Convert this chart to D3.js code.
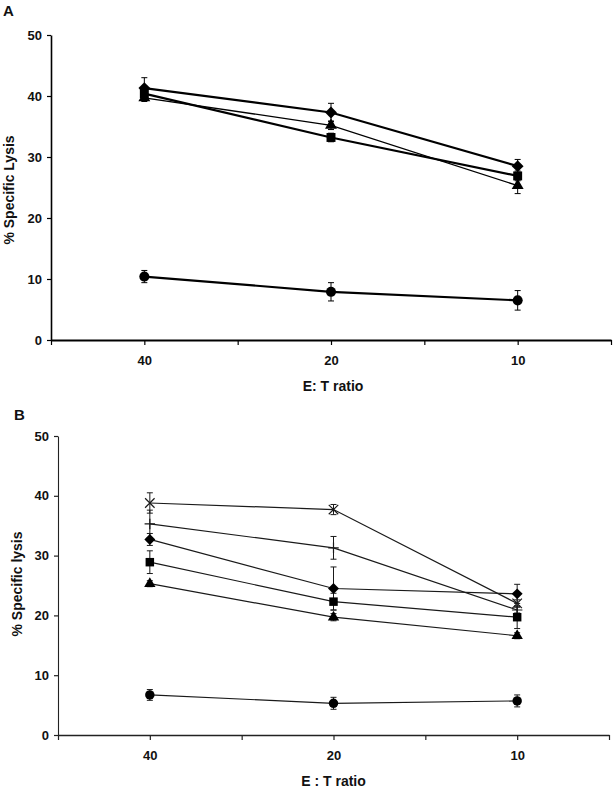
<!DOCTYPE html>
<html>
<head>
<meta charset="utf-8">
<script src="https://cdn.jsdelivr.net/npm/d3@7"></script>
<style>
  html, body { margin: 0; padding: 0; background: #fff; }
  svg { display: block; }
  text { font-family: "Liberation Sans", Arial, sans-serif; fill: #111; }
</style>
</head>
<body>
<div id="chart"></div>
<script>
// ---------- data ----------
const categories = ["40", "20", "10"];
const yTicks = [0, 10, 20, 30, 40, 50];

// Panel A
const aDiamond = [41.3, 37.3, 28.5];
const aDiamondErr = [1.7, 1.5, 1.1];
const aSquare = [40.4, 33.2, 26.9];
const aSquareErr = [0.8, 0.7, 0.8];
const aTriangle = [39.7, 35.2, 25.3];
const aTriangleErr = [0.6, 0.7, 1.3];
const aCircle = [10.4, 7.9, 6.5];
const aCircleErr = [1.0, 1.5, 1.6];

// Panel B
const bCross = [38.8, 37.7, 22.0];
const bCrossErr = [1.7, 0.85, 0.6];
const bPlus = [35.3, 31.3, 20.9];
const bPlusErr = [2.3, 1.9, 0.5];
const bDiamond = [32.7, 24.5, 23.6];
const bDiamondErr = [1.0, 3.6, 1.6];
const bSquare = [28.9, 22.3, 19.7];
const bSquareErr = [1.9, 1.4, 1.9];
const bTriangle = [25.3, 19.7, 16.6];
const bTriangleErr = [0.5, 0.6, 0.5];
const bCircle = [6.7, 5.3, 5.7];
const bCircleErr = [0.9, 1.0, 1.0];

// ---------- custom symbol types ----------
const symDiamond = {
  draw(ctx, size) {
    const r = Math.sqrt(size / 2);
    ctx.moveTo(0, -r); ctx.lineTo(r, 0); ctx.lineTo(0, r); ctx.lineTo(-r, 0); ctx.closePath();
  }
};
const symX = {
  draw(ctx, size) {
    const r = Math.sqrt(size) / 2;
    ctx.moveTo(-r, -r); ctx.lineTo(r, r);
    ctx.moveTo(r, -r); ctx.lineTo(-r, r);
  }
};
const symPlus = {
  draw(ctx, size) {
    const r = Math.sqrt(size) / 2;
    ctx.moveTo(-r, 0); ctx.lineTo(r, 0);
    ctx.moveTo(0, -r); ctx.lineTo(0, r);
  }
};

const W = 616, H = 789;
const svg = d3.select("#chart").append("svg").attr("width", W).attr("height", H);
svg.append("rect").attr("width", W).attr("height", H).attr("fill", "#fff");

function panel(cfg) {
  const g = svg.append("g");
  const x = d3.scalePoint().domain(categories).range([cfg.x0, cfg.x1]).padding(0.5);
  const xt = d3.scaleLinear().domain([0, categories.length * 2]).range([cfg.x0, cfg.x1]);
  const y = d3.scaleLinear().domain([0, 50]).range([cfg.yBottom, cfg.yTop]);

  // x axis line + ticks
  const xAxisTicks = g.append("g")
    .attr("transform", `translate(0,${cfg.yBottom})`)
    .call(d3.axisBottom(xt).tickValues(d3.range(0, categories.length * 2 + 1)).tickFormat("").tickSize(5).tickSizeOuter(0));
  xAxisTicks.select(".domain").attr("stroke", cfg.axisColor).attr("stroke-width", cfg.xAxisWidth);
  xAxisTicks.selectAll(".tick line").attr("stroke", cfg.axisColor).attr("stroke-width", 1.2);

  // x category labels
  const xLab = g.append("g")
    .attr("transform", `translate(0,${cfg.yBottom})`)
    .call(d3.axisBottom(x).tickSize(0).tickPadding(16));
  xLab.select(".domain").remove();
  xLab.selectAll("text").attr("font-size", 13).attr("font-weight", "bold")
    .attr("font-family", "Liberation Sans, Arial, sans-serif").attr("fill", "#111");

  // y axis
  const yAx = g.append("g")
    .attr("transform", `translate(${cfg.x0},0)`)
    .call(d3.axisLeft(y).tickValues(yTicks).tickSize(4).tickSizeOuter(0).tickPadding(5));
  yAx.select(".domain").attr("stroke", cfg.axisColor).attr("stroke-width", cfg.yAxisWidth);
  yAx.selectAll(".tick line").attr("stroke", cfg.axisColor).attr("stroke-width", 1.2);
  yAx.selectAll("text").attr("font-size", 13).attr("font-weight", "bold")
    .attr("font-family", "Liberation Sans, Arial, sans-serif").attr("fill", "#111");

  // series
  const line = d3.line().x((d, i) => x(categories[i])).y(d => y(d));
  cfg.series.forEach(s => {
    g.append("path").datum(s.values)
      .attr("d", line).attr("fill", "none")
      .attr("stroke", cfg.lineColor).attr("stroke-width", s.lw);
  });
  // error bars
  cfg.series.forEach(s => {
    const eg = g.append("g").attr("stroke", cfg.lineColor).attr("stroke-width", 1);
    s.values.forEach((v, i) => {
      const cx = x(categories[i]);
      const e = s.errors[i];
      const y1 = y(v + e), y2 = y(v - e);
      eg.append("line").attr("x1", cx).attr("x2", cx).attr("y1", y1).attr("y2", y2);
      eg.append("line").attr("x1", cx - 3).attr("x2", cx + 3).attr("y1", y1).attr("y2", y1);
      eg.append("line").attr("x1", cx - 3).attr("x2", cx + 3).attr("y1", y2).attr("y2", y2);
    });
  });
  // markers
  cfg.series.forEach(s => {
    const sym = d3.symbol().type(s.symbol).size(s.size);
    g.selectAll(null).data(s.values).enter().append("path")
      .attr("transform", (d, i) => `translate(${x(categories[i])},${y(d)})`)
      .attr("d", sym)
      .attr("fill", s.stroked ? "none" : "#000")
      .attr("stroke", s.stroked ? cfg.lineColor : "none")
      .attr("stroke-width", s.stroked ? 1.2 : 0);
  });

  // titles
  g.append("text").attr("x", (cfg.x0 + cfg.x1) / 2 + cfg.xTitleShift).attr("y", cfg.xTitleY)
    .attr("text-anchor", "middle").attr("font-size", 14).attr("font-weight", "bold")
    .text(cfg.xTitle);
  g.append("text")
    .attr("transform", `translate(${cfg.yTitleX},${cfg.yTitleY}) rotate(-90)`)
    .attr("text-anchor", "middle").attr("font-size", 14).attr("font-weight", "bold")
    .text(cfg.yTitle);
  g.append("text").attr("x", cfg.letterX).attr("y", cfg.letterY)
    .attr("font-size", 15).attr("font-weight", "bold").text(cfg.letter);
}

panel({
  x0: 51, x1: 611, yTop: 35, yBottom: 340,
  axisColor: "#000", xAxisWidth: 2, yAxisWidth: 1.6, lineColor: "#000",
  xTitle: "E: T ratio", xTitleY: 391, xTitleShift: 2,
  yTitle: "% Specific Lysis", yTitleX: 14, yTitleY: 190,
  letter: "A", letterX: 3, letterY: 16,
  series: [
    { values: aSquare, errors: aSquareErr, symbol: d3.symbolSquare, size: 80, lw: 2.2 },
    { values: aTriangle, errors: aTriangleErr, symbol: d3.symbolTriangle, size: 62, lw: 1.3 },
    { values: aDiamond, errors: aDiamondErr, symbol: symDiamond, size: 70, lw: 2.2 },
    { values: aCircle, errors: aCircleErr, symbol: d3.symbolCircle, size: 80, lw: 2.2 }
  ]
});

panel({
  x0: 58, x1: 609, yTop: 436, yBottom: 735,
  axisColor: "#222", xAxisWidth: 1.3, yAxisWidth: 1.1, lineColor: "#1a1a1a",
  xTitle: "E : T ratio", xTitleY: 786, xTitleShift: 0,
  yTitle: "% Specific lysis", yTitleX: 22, yTitleY: 584,
  letter: "B", letterX: 14, letterY: 420,
  series: [
    { values: bCross, errors: bCrossErr, symbol: symX, size: 90, lw: 1.2, stroked: true },
    { values: bPlus, errors: bPlusErr, symbol: symPlus, size: 110, lw: 1.2, stroked: true },
    { values: bDiamond, errors: bDiamondErr, symbol: symDiamond, size: 60, lw: 1.2 },
    { values: bSquare, errors: bSquareErr, symbol: d3.symbolSquare, size: 72, lw: 1.2 },
    { values: bTriangle, errors: bTriangleErr, symbol: d3.symbolTriangle, size: 56, lw: 1.2 },
    { values: bCircle, errors: bCircleErr, symbol: d3.symbolCircle, size: 70, lw: 1.2 }
  ]
});
</script>
</body>
</html>
